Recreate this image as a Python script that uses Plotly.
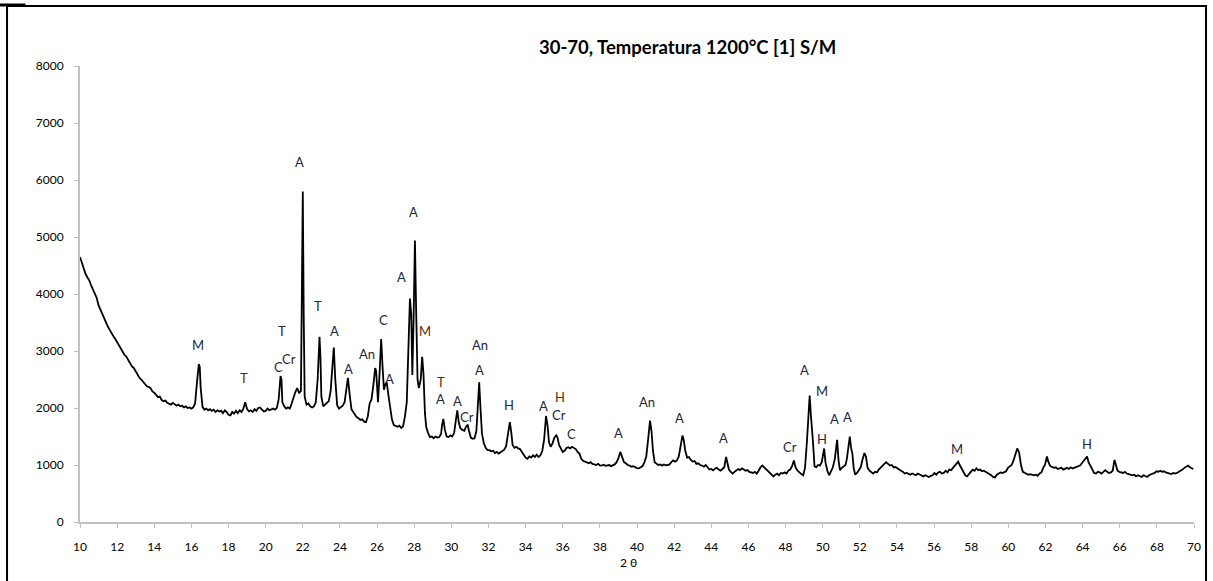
import plotly.graph_objects as go

two_theta = [
10.00,10.05,10.10,10.15,10.20,10.25,10.30,10.40,10.50,10.60,10.70,10.80,10.90,11.00,11.10,11.20,11.30,11.40,11.50,11.60,
11.70,11.80,11.90,12.00,12.10,12.20,12.30,12.40,12.50,12.60,12.70,12.80,12.90,13.00,13.10,13.20,13.30,13.40,13.50,13.60,
13.70,13.80,13.90,14.00,14.10,14.20,14.30,14.40,14.50,14.60,14.70,14.80,14.90,15.00,15.10,15.20,15.30,15.40,15.50,15.60,
15.70,15.80,15.90,16.00,16.10,16.20,16.30,16.40,16.45,16.50,16.60,16.70,16.80,16.90,17.00,17.10,17.20,17.30,17.40,17.50,
17.60,17.70,17.80,17.90,18.00,18.10,18.20,18.30,18.40,18.50,18.60,18.70,18.80,18.90,19.00,19.10,19.20,19.30,19.40,19.50,
19.60,19.70,19.80,19.90,20.00,20.10,20.20,20.30,20.40,20.50,20.60,20.70,20.80,20.85,20.90,21.00,21.10,21.20,21.30,21.40,
21.50,21.60,21.70,21.80,21.90,21.95,22.00,22.05,22.10,22.20,22.30,22.40,22.50,22.60,22.70,22.80,22.90,22.95,23.00,23.10,
23.20,23.30,23.40,23.50,23.60,23.67,23.75,23.85,23.95,24.05,24.15,24.25,24.35,24.43,24.52,24.62,24.70,24.80,24.90,25.00,
25.10,25.20,25.30,25.40,25.50,25.60,25.70,25.80,25.90,25.95,26.05,26.15,26.22,26.30,26.37,26.45,26.52,26.60,26.70,26.80,
26.90,27.00,27.10,27.20,27.30,27.40,27.50,27.60,27.70,27.77,27.84,27.90,27.97,28.04,28.10,28.18,28.25,28.35,28.43,28.50,
28.58,28.65,28.75,28.85,28.95,29.05,29.15,29.25,29.35,29.45,29.50,29.57,29.65,29.75,29.85,29.95,30.05,30.15,30.25,30.32,
30.40,30.48,30.58,30.70,30.80,30.88,30.95,31.05,31.15,31.25,31.35,31.43,31.50,31.57,31.65,31.75,31.85,31.95,32.05,32.15,
32.25,32.35,32.45,32.55,32.65,32.75,32.85,32.95,33.05,33.15,33.22,33.30,33.40,33.50,33.60,33.70,33.80,33.90,34.00,34.10,
34.20,34.30,34.40,34.50,34.60,34.70,34.80,34.90,35.00,35.10,35.18,35.26,35.35,35.45,35.55,35.65,35.72,35.80,35.90,36.00,
36.10,36.20,36.30,36.40,36.50,36.60,36.70,36.80,36.90,37.00,37.10,37.20,37.30,37.40,37.50,37.60,37.70,37.80,37.90,38.00,
38.10,38.20,38.30,38.40,38.50,38.60,38.70,38.80,38.90,39.00,39.10,39.20,39.30,39.40,39.50,39.60,39.70,39.80,39.90,40.00,
40.10,40.20,40.30,40.40,40.50,40.60,40.70,40.78,40.86,40.95,41.05,41.15,41.25,41.35,41.45,41.55,41.65,41.75,41.85,41.95,
42.05,42.15,42.25,42.35,42.45,42.52,42.60,42.70,42.80,42.90,43.00,43.10,43.20,43.30,43.40,43.50,43.60,43.70,43.80,43.90,
44.00,44.10,44.20,44.30,44.40,44.50,44.60,44.70,44.80,44.88,44.95,45.05,45.15,45.25,45.35,45.45,45.55,45.65,45.75,45.85,
45.95,46.05,46.15,46.25,46.35,46.45,46.55,46.65,46.75,46.85,46.95,47.05,47.15,47.25,47.35,47.45,47.55,47.65,47.75,47.85,
47.95,48.05,48.15,48.25,48.35,48.45,48.55,48.65,48.75,48.85,48.95,49.05,49.15,49.22,49.30,49.36,49.42,49.48,49.56,49.65,
49.75,49.85,49.95,50.02,50.08,50.15,50.25,50.35,50.45,50.55,50.65,50.72,50.78,50.85,50.93,51.03,51.13,51.23,51.30,51.38,
51.46,51.53,51.60,51.67,51.75,51.85,51.95,52.05,52.15,52.25,52.33,52.42,52.52,52.62,52.72,52.82,52.92,53.02,53.12,53.22,
53.32,53.42,53.52,53.62,53.72,53.82,53.92,54.02,54.12,54.22,54.32,54.42,54.52,54.62,54.72,54.82,54.92,55.02,55.12,55.22,
55.32,55.42,55.52,55.62,55.72,55.82,55.92,56.02,56.12,56.22,56.32,56.42,56.52,56.62,56.72,56.82,56.92,57.02,57.12,57.22,
57.30,57.38,57.48,57.58,57.68,57.78,57.88,57.98,58.08,58.18,58.28,58.38,58.48,58.58,58.68,58.78,58.88,58.98,59.08,59.18,
59.28,59.38,59.48,59.58,59.68,59.78,59.88,59.98,60.08,60.18,60.28,60.38,60.48,60.58,60.68,60.78,60.88,60.98,61.08,61.18,
61.28,61.38,61.48,61.58,61.68,61.78,61.88,61.98,62.08,62.16,62.26,62.36,62.46,62.56,62.66,62.76,62.86,62.96,63.06,63.16,
63.26,63.36,63.46,63.56,63.66,63.76,63.86,63.96,64.06,64.16,64.24,64.32,64.42,64.52,64.62,64.72,64.82,64.92,65.02,65.12,
65.22,65.32,65.42,65.52,65.62,65.72,65.80,65.88,65.98,66.08,66.18,66.28,66.38,66.48,66.58,66.68,66.78,66.88,66.98,67.08,
67.18,67.28,67.38,67.48,67.58,67.68,67.78,67.88,67.98,68.08,68.18,68.28,68.38,68.48,68.58,68.68,68.78,68.88,68.98,69.08,
69.18,69.28,69.38,69.48,69.58,69.68,69.78,69.88,69.96]

intensity = [
4650,4600,4560,4480,4420,4400,4350,4290,4240,4150,4070,3990,3930,3800,3720,3660,3580,3480,3430,3370,
3300,3260,3210,3150,3110,3030,2990,2930,2900,2840,2790,2730,2700,2640,2600,2530,2500,2460,2410,2380,
2370,2350,2290,2270,2230,2190,2200,2140,2120,2130,2090,2080,2060,2090,2060,2040,2060,2030,2040,2010,
2030,2000,2010,1990,2010,2080,2450,2770,2720,2350,2020,1970,1990,1960,1980,1950,1970,1930,1960,1940,
1950,1910,1960,1930,1880,1870,1930,1900,1950,1910,1960,1930,1990,2100,1980,1940,1960,1930,1980,1950,
2000,2010,1970,1940,1950,1990,1960,1980,1990,1970,2000,2150,2560,2500,2100,2030,1990,2010,1990,2080,
2200,2280,2350,2260,2300,3800,5800,3600,2200,2060,2080,2030,2010,2030,2100,2500,3250,2900,2200,2030,
2060,2080,2120,2300,2800,3060,2500,2050,1990,2010,2040,2100,2350,2530,2250,1980,1940,1880,1840,1820,
1790,1800,1760,1750,1850,2080,2150,2400,2700,2650,2100,2700,3210,2700,2320,2420,2450,2250,2060,1800,
1700,1680,1670,1690,1650,1680,1850,2100,3200,3920,3650,2580,3600,4940,3800,2500,2350,2500,2900,2600,
1900,1660,1560,1490,1500,1470,1500,1480,1490,1550,1700,1810,1620,1500,1490,1520,1500,1560,1800,1960,
1750,1650,1620,1600,1680,1700,1600,1480,1460,1470,1600,2100,2450,2000,1550,1380,1300,1260,1260,1240,
1250,1210,1230,1200,1220,1250,1270,1330,1550,1750,1600,1350,1300,1320,1290,1280,1230,1170,1130,1110,
1150,1130,1170,1140,1180,1140,1170,1250,1450,1860,1700,1400,1320,1380,1480,1520,1480,1350,1300,1230,
1250,1300,1310,1290,1320,1300,1280,1230,1200,1110,1070,1060,1050,1030,1050,1020,1010,1000,1020,995,
990,1005,985,990,1000,980,995,1010,1050,1120,1230,1150,1050,1030,1000,990,970,980,960,945,
940,960,980,1050,1150,1450,1780,1600,1250,1050,1020,1000,1010,990,1010,995,1000,1010,1050,1080,
1060,1080,1150,1380,1520,1430,1250,1130,1140,1090,1060,1070,1020,1030,1000,990,970,1000,960,920,
930,905,935,950,920,900,930,960,1140,980,920,880,850,880,900,930,910,940,920,900,
910,880,870,860,880,850,900,960,990,960,920,890,870,840,800,830,850,820,860,850,
870,850,900,920,980,1080,950,900,860,840,820,950,1400,1900,2220,1900,1680,1400,980,960,
1000,990,1050,1200,1290,1050,900,820,880,960,1100,1300,1440,1100,910,950,970,1000,1100,1350,
1500,1300,1200,950,830,860,900,960,1100,1210,1150,950,900,870,850,880,870,920,960,990,
1020,1050,1010,990,1000,960,965,940,910,900,880,850,860,840,830,850,840,820,850,830,
820,800,820,800,790,810,820,860,830,870,880,850,860,900,870,920,910,950,990,1030,
1060,1000,930,860,820,800,850,880,920,900,940,910,920,890,900,880,870,850,820,790,
780,830,850,870,860,880,890,950,970,1000,1080,1200,1290,1220,1000,880,860,840,830,840,
830,820,830,810,850,870,950,1010,1150,1050,980,960,950,960,930,940,950,920,940,950,
930,960,940,950,970,980,990,1030,1080,1130,1150,1050,980,930,860,850,880,870,850,880,
910,880,860,870,900,1090,1000,900,880,870,860,880,850,840,830,820,830,800,820,810,
790,820,800,790,820,840,850,860,890,880,900,880,890,870,860,850,840,860,850,860,
880,890,920,950,970,990,960,950,930]

label_text = ["M","T","C","T","Cr","A","T","A","A","An","C","A","A","A","M","T","A","A","Cr",
              "An","A","H","A","H","Cr","C","A","An","A","A","Cr","A","M","H","A","A","M","H"]
label_x = [16.37,18.85,20.70,20.88,21.24,21.81,22.80,23.69,24.45,25.44,26.33,26.66,27.32,27.98,28.57,29.42,29.42,30.32,30.86,
           31.54,31.50,33.12,34.95,35.85,35.81,36.48,39.03,40.52,42.27,44.64,48.23,49.04,49.94,49.99,50.66,51.32,57.21,64.24]
label_y = [3100,2533,2720,3350,2860,6316,3790,3346,2690,2954,3538,2515,4298,5439,3346,2456,2164,2123,1842,
           3100,2673,2047,2030,2193,1884,1551,1568,2105,1832,1481,1316,2673,2298,1463,1814,1842,1287,1363]
brown_labels = {"T@18.85", "M@28.57", "T@29.42", "H@35.85"}

x_ticks = list(range(10, 71, 2))
y_ticks = list(range(0, 8001, 1000))

fig = go.Figure()
fig.add_trace(go.Scatter(x=two_theta, y=intensity, mode="lines",
                         line=dict(color="black", width=1.8), showlegend=False))

for t, lx, ly in zip(label_text, label_x, label_y):
    col = "#5c2a0e" if f"{t}@{lx}" in brown_labels else "#1c2744"
    fig.add_annotation(x=lx, y=ly, text=t, showarrow=False, yanchor="middle",
                       font=dict(family="Lato", size=13, color=col))

fig.add_annotation(x=0.5453, y=1.0417, xref="paper", yref="paper", yanchor="middle",
                   text="<b>30-70, Temperatura 1200°C [1] S/M</b>",
                   showarrow=False, font=dict(family="Lato", size=18.5, color="black"))
fig.add_annotation(x=0.4928, y=-0.0899, xref="paper", yref="paper", yanchor="middle", text="2 θ", showarrow=False,
                   font=dict(family="Lato", size=12, color="black"))

fig.add_shape(type="rect", xref="paper", yref="paper", x0=-0.0655, x1=1.0108, y0=-0.16, y1=1.1316,
              line=dict(color="black", width=2))
fig.add_shape(type="line", xref="paper", yref="paper", x0=-0.0718, x1=-0.049, y0=1.1338, y1=1.1338,
              line=dict(color="black", width=3))

fig.update_layout(
    width=1213, height=581,
    margin=dict(l=80, r=19, t=66, b=59),
    paper_bgcolor="white", plot_bgcolor="white",
    xaxis=dict(range=[10, 70], tickvals=x_ticks, ticktext=[str(v) for v in x_ticks],
               showgrid=False, zeroline=False, showline=True, linecolor="#c0c0c0", linewidth=2,
               ticks="outside", ticklen=4, tickcolor="#c0c0c0", ticklabelstandoff=9,
               tickfont=dict(family="Lato", size=12, color="black")),
    yaxis=dict(range=[0, 8000], tickvals=y_ticks, ticktext=[str(v) for v in y_ticks],
               showgrid=False, zeroline=False, showline=True, linecolor="#c0c0c0", linewidth=2,
               ticks="outside", ticklen=4, tickcolor="#c0c0c0", ticklabelstandoff=8,
               tickfont=dict(family="Lato", size=12, color="black")),
)
fig.write_html("out.html", config={"displayModeBar": False},
               post_script="document.body.style.margin='0';")
